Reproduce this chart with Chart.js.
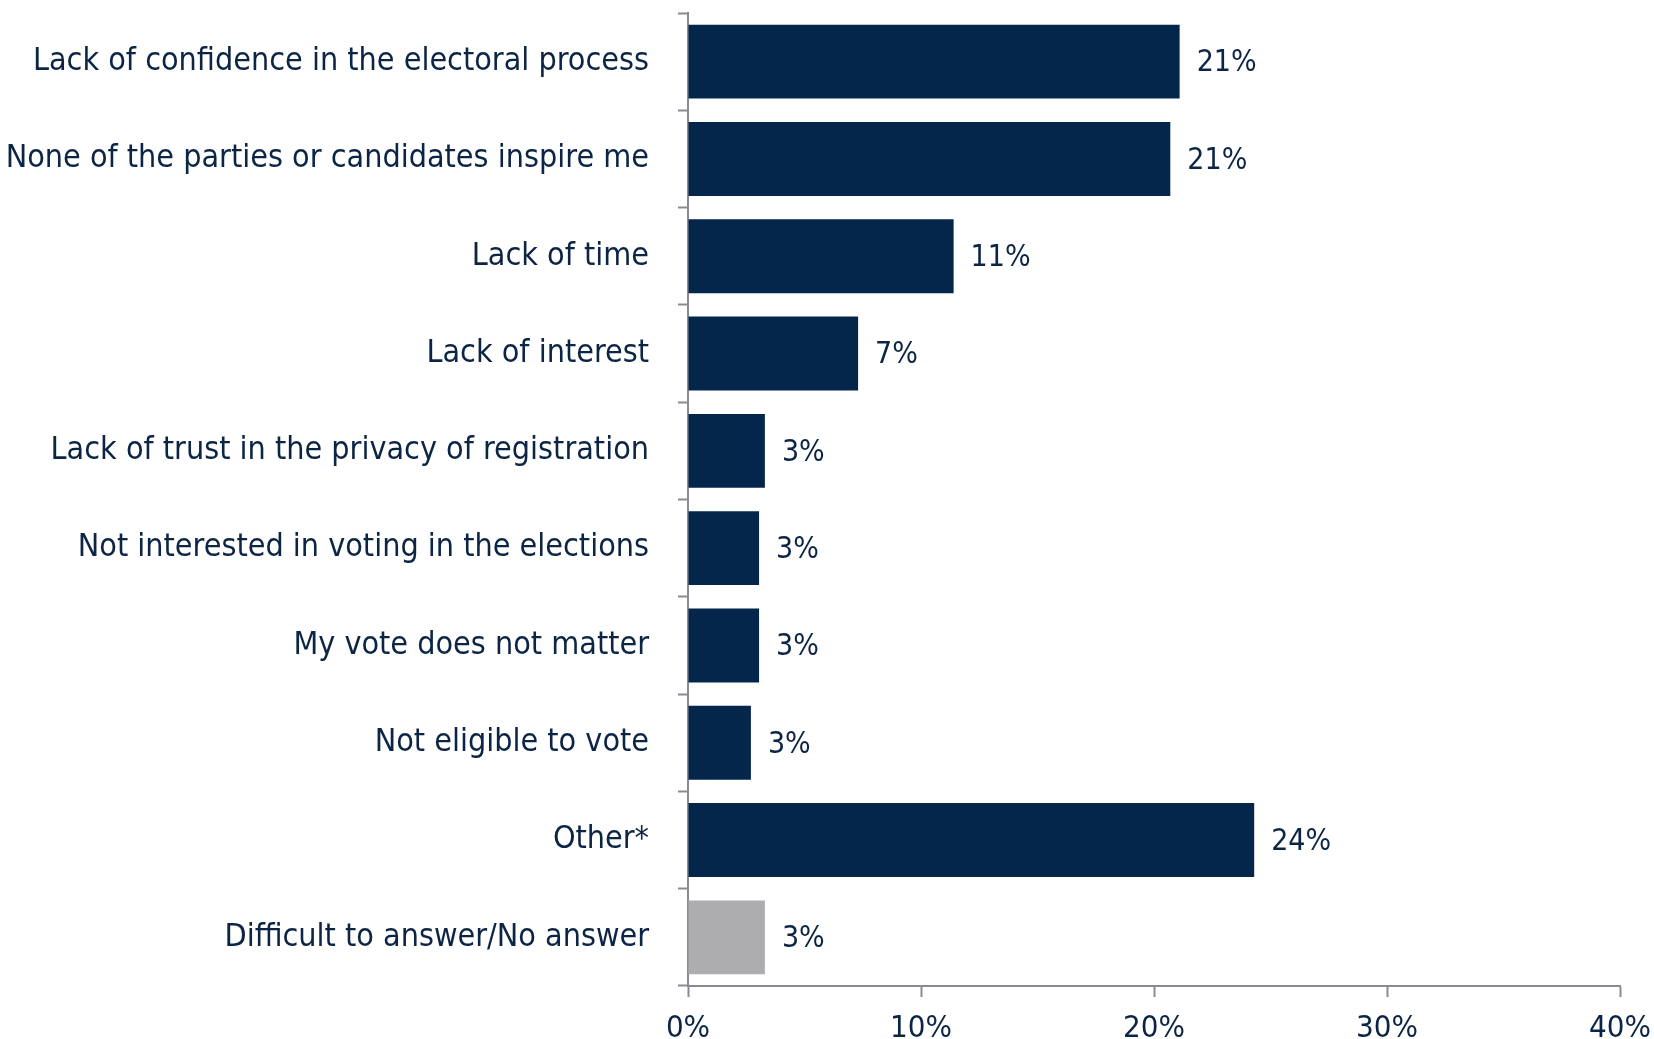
<!DOCTYPE html>
<html>
<head>
<meta charset="utf-8">
<script src="https://cdn.jsdelivr.net/npm/chart.js@4.4.1/dist/chart.umd.min.js"></script>
<style>
    html, body { margin: 0; padding: 0; background: #fff; }
    #wrap { width: 1654px; height: 1039px; }
</style>
</head>
<body>
<div id="wrap"><canvas id="chartCanvas"></canvas></div>
<script>
const categories = [
    'Lack of confidence in the electoral process',
    'None of the parties or candidates inspire me',
    'Lack of time',
    'Lack of interest',
    'Lack of trust in the privacy of registration',
    'Not interested in voting in the elections',
    'My vote does not matter',
    'Not eligible to vote',
    'Other*',
    'Difficult to answer/No answer'
];
const values = [21.1, 20.7, 11.4, 7.3, 3.3, 3.05, 3.05, 2.7, 24.3, 3.3];
const valueLabels = ['21%', '21%', '11%', '7%', '3%', '3%', '3%', '3%', '24%', '3%'];
const xTicks = [0, 10, 20, 30, 40];

const COLORS = {
    navy: '#03264a',
    grey: '#adadaf',
    text: '#0c2545',
    axis: '#8a8a94'
};
const FONT_FAMILY = "'DejaVu Sans Condensed', 'DejaVu Sans', sans-serif";

const barColors = categories.map((c, i) => i === categories.length - 1 ? COLORS.grey : COLORS.navy);

// draws the "21%" style labels at the end of each bar
const valueLabelPlugin = {
    id: 'valueLabels',
    afterDatasetsDraw(chart) {
        const ctx = chart.ctx;
        const meta = chart.getDatasetMeta(0);
        ctx.save();
        ctx.font = `30px ${FONT_FAMILY}`;
        ctx.fillStyle = COLORS.text;
        ctx.textAlign = 'left';
        ctx.textBaseline = 'middle';
        meta.data.forEach((bar, i) => {
            ctx.fillText(valueLabels[i], bar.x + 17, bar.y + 2);
        });
        ctx.restore();
    }
};

const ctx = document.getElementById('chartCanvas').getContext('2d');
new Chart(ctx, {
    type: 'bar',
    data: {
        labels: categories,
        datasets: [{
            data: values,
            backgroundColor: barColors,
            borderWidth: 0,
            barPercentage: 0.76,
            categoryPercentage: 1
        }]
    },
    options: {
        indexAxis: 'y',
        responsive: true,
        maintainAspectRatio: false,
        animation: false,
        layout: {
            padding: { top: 13, right: 34, bottom: 0, left: 0 }
        },
        plugins: {
            legend: { display: false },
            tooltip: { enabled: false }
        },
        scales: {
            x: {
                min: 0,
                max: 40,
                afterBuildTicks: scale => {
                    scale.ticks = xTicks.map(v => ({ value: v }));
                },
                afterFit: scale => {
                    scale.height = 53;
                    scale.paddingLeft = 0;
                    scale.paddingRight = 0;
                },
                border: { display: true, color: COLORS.axis, width: 2 },
                grid: {
                    drawOnChartArea: false,
                    drawTicks: true,
                    tickLength: 11,
                    tickColor: COLORS.axis,
                    tickWidth: 2
                },
                ticks: {
                    color: COLORS.text,
                    font: { family: FONT_FAMILY, size: 31 },
                    padding: 13,
                    maxRotation: 0,
                    callback: v => v + '%'
                }
            },
            y: {
                afterFit: scale => {
                    scale.width = 688;
                    scale.paddingTop = 0;
                    scale.paddingBottom = 0;
                },
                border: { display: true, color: COLORS.axis, width: 2 },
                grid: {
                    offset: true,
                    drawOnChartArea: false,
                    drawTicks: true,
                    tickLength: 10,
                    tickColor: COLORS.axis,
                    tickWidth: 2
                },
                ticks: {
                    color: COLORS.text,
                    font: { family: FONT_FAMILY, size: 32 },
                    padding: 29,
                    autoSkip: false
                }
            }
        }
    },
    plugins: [valueLabelPlugin]
});
</script>
</body>
</html>
